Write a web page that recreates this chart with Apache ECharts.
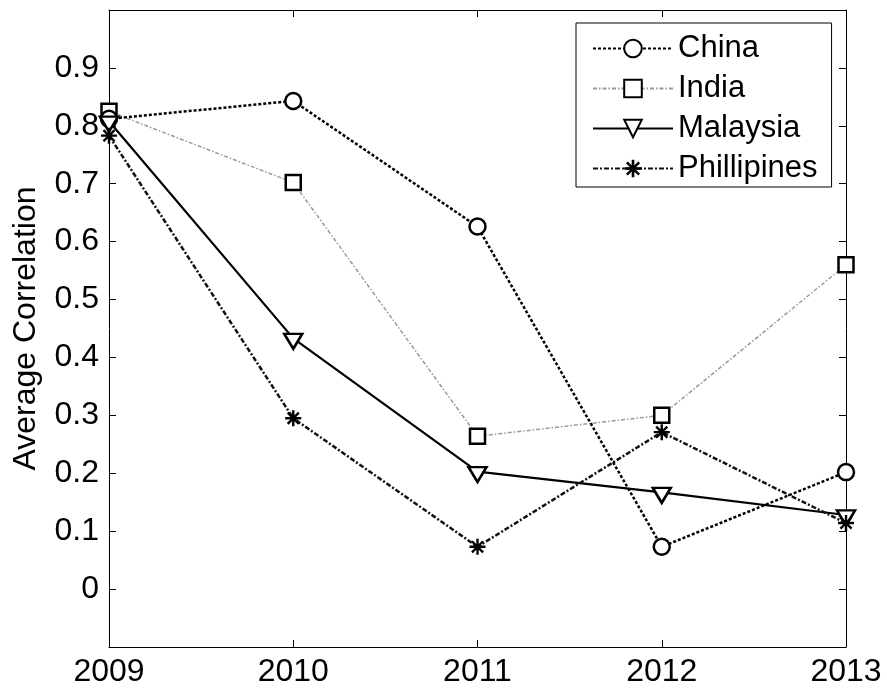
<!DOCTYPE html>
<html>
<head>
<meta charset="utf-8">
<script src="https://cdn.jsdelivr.net/npm/echarts@6/dist/echarts.min.js"></script>
<style>html,body{margin:0;padding:0;background:#fff}#c{width:887px;height:695px}</style>
</head>
<body>
<div id="c"></div>
<script>
var years = ['2009', '2010', '2011', '2012', '2013'];
var china = [0.812, 0.843, 0.626, 0.073, 0.202];
var india = [0.825, 0.702, 0.264, 0.300, 0.560];
var malaysia = [0.808, 0.433, 0.203, 0.167, 0.128];
var phillipines = [0.783, 0.295, 0.073, 0.271, 0.114];
var yTicks = { min: -0.1, max: 1.0, interval: 0.1 };

var FONT = "'Liberation Sans', Arial, sans-serif";
var star = 'path://M8.5,0 L11.5,0 L11.5,20 L8.5,20 Z M0,8.5 L20,8.5 L20,11.5 L0,11.5 Z M4.1,2 L18,15.9 L15.9,18 L2,4.1 Z M18,4.1 L4.1,18 L2,15.9 L15.9,2 Z';

var chart = echarts.init(document.getElementById('c'), null, { renderer: 'canvas' });
var axisLine = { show: true, onZero: false, lineStyle: { color: '#000', width: 1 } };
var tick = { show: true, inside: true, length: 7, lineStyle: { color: '#000', width: 1 } };

chart.setOption({
  animation: false,
  backgroundColor: '#fff',
  textStyle: { fontFamily: FONT },
  grid: { left: 109, right: 41, top: 10, bottom: 48 },
  legend: {
    orient: 'vertical',
    left: 576, top: 23,
    padding: [10, 14, 3, 16],
    itemWidth: 80, itemHeight: 22, itemGap: 9,
    borderColor: '#000', borderWidth: 1,
    backgroundColor: '#fff',
    textStyle: { fontFamily: FONT, fontSize: 31, color: '#000', lineHeight: 30, padding: [0, 0, 0, 0] },
    data: ['China', 'India', 'Malaysia', 'Phillipines']
  },
  xAxis: [{
    type: 'category', data: years, boundaryGap: false,
    axisLine: axisLine, axisTick: tick, splitLine: { show: false },
    axisLabel: { fontSize: 32, color: '#000', margin: 9, fontFamily: FONT }
  }, {
    type: 'category', data: years, boundaryGap: false, position: 'top',
    axisLine: axisLine, axisTick: tick, axisLabel: { show: false }, splitLine: { show: false }
  }],
  yAxis: [{
    type: 'value', min: yTicks.min, max: yTicks.max, interval: yTicks.interval,
    name: 'Average Correlation', nameLocation: 'middle', nameGap: 67,
    nameTextStyle: { fontSize: 32, color: '#000', fontFamily: FONT },
    axisLine: axisLine, axisTick: tick, splitLine: { show: false },
    axisLabel: {
      fontSize: 32, color: '#000', margin: 10, fontFamily: FONT,
      formatter: function (v) {
        if (v < -0.05 || v > 0.95) return '';
        if (Math.abs(v) < 1e-9) return '0';
        return v.toFixed(1);
      }
    }
  }, {
    type: 'value', min: yTicks.min, max: yTicks.max, interval: yTicks.interval, position: 'right',
    axisLine: axisLine, axisTick: tick, axisLabel: { show: false }, splitLine: { show: false }
  }],
  series: [{
    name: 'China', type: 'line', data: china,
    symbol: 'circle', symbolSize: 16, showAllSymbol: true,
    lineStyle: { color: '#000', width: 2.5, type: [3, 2] },
    itemStyle: { color: '#fff', borderColor: '#000', borderWidth: 2.5 },
    z: 4
  }, {
    name: 'India', type: 'line', data: india,
    symbol: 'rect', symbolSize: 15,
    lineStyle: { color: '#999', width: 1.5, type: [4, 2, 1.5, 2] },
    itemStyle: { color: '#fff', borderColor: '#000', borderWidth: 2.5 },
    z: 3
  }, {
    name: 'Malaysia', type: 'line', data: malaysia,
    symbol: 'triangle', symbolRotate: 180, symbolSize: [18, 15], symbolOffset: [0, 3],
    lineStyle: { color: '#000', width: 2.2, type: 'solid' },
    itemStyle: { color: '#fff', borderColor: '#000', borderWidth: 2.5 },
    z: 5
  }, {
    name: 'Phillipines', type: 'line', data: phillipines,
    symbol: star, symbolSize: 16,
    lineStyle: { color: '#111', width: 2.5, type: [5, 2, 2, 2] },
    itemStyle: { color: '#000', borderWidth: 0 },
    z: 6
  }]
});
</script>
</body>
</html>
